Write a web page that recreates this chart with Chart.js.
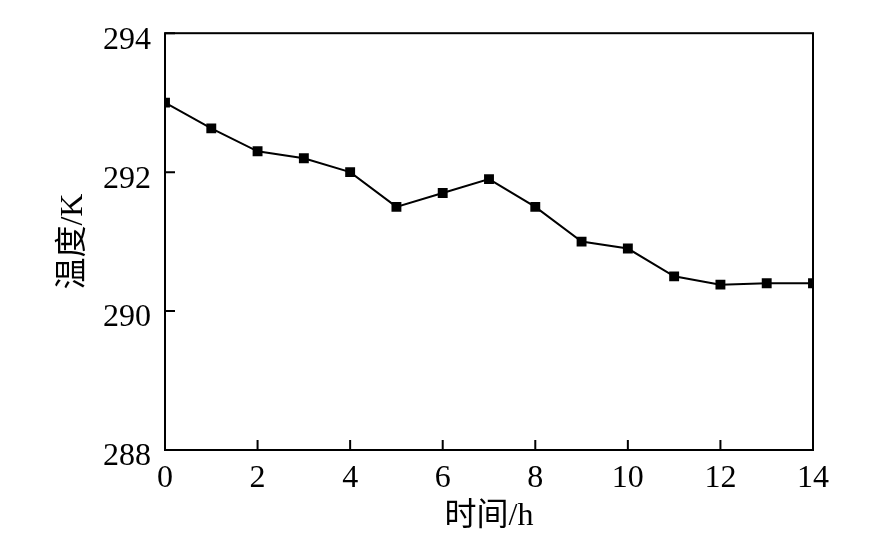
<!DOCTYPE html>
<html>
<head>
<meta charset="utf-8">
<script src="https://cdn.jsdelivr.net/npm/chart.js@4/dist/chart.umd.min.js"></script>
<style>
  html, body { margin: 0; padding: 0; background: #fff; }
  #wrap { width: 886px; height: 539px; }
</style>
</head>
<body>
<div id="wrap"><canvas id="tempChart" width="886" height="539"></canvas></div>
<script>
// 数据：时间 (h) 与温度 (K)
const hours = [0, 1, 2, 3, 4, 5, 6, 7, 8, 9, 10, 11, 12, 13, 14];
const temps = [293.0, 292.63, 292.3, 292.2, 292.0, 291.5, 291.7, 291.9, 291.5, 291.0, 290.9, 290.5, 290.38, 290.4, 290.4];
const xTicks = [0, 2, 4, 6, 8, 10, 12, 14];
const yTicks = [288, 290, 292, 294];

const serif = "'Liberation Serif', 'Times New Roman', 'Noto Sans CJK SC', serif";

// 边框与向内的刻度线
const frameTicks = {
    id: 'frameTicks',
    afterDraw(chart) {
        const ctx = chart.ctx;
        const a = chart.chartArea;
        const xs = chart.scales.x;
        const ys = chart.scales.y;
        ctx.save();
        ctx.strokeStyle = '#000';
        ctx.lineWidth = 2;
        ctx.strokeRect(a.left, a.top, a.right - a.left, a.bottom - a.top);
        ctx.beginPath();
        xTicks.forEach(v => {
            const px = xs.getPixelForValue(v);
            ctx.moveTo(px, a.bottom);
            ctx.lineTo(px, a.bottom - 10);
        });
        yTicks.forEach(v => {
            const py = ys.getPixelForValue(v);
            ctx.moveTo(a.left, py);
            ctx.lineTo(a.left + 10, py);
        });
        ctx.stroke();
        ctx.restore();
    }
};

const ctx = document.getElementById('tempChart').getContext('2d');
new Chart(ctx, {
    type: 'line',
    data: {
        datasets: [{
            data: hours.map((h, i) => ({ x: h, y: temps[i] })),
            borderColor: '#000',
            borderWidth: 2,
            backgroundColor: '#000',
            pointStyle: 'rect',
            pointRadius: 7,
            pointBorderWidth: 0,
            tension: 0,
            fill: false
        }]
    },
    options: {
        responsive: false,
        animation: false,
        devicePixelRatio: 1,
        layout: { padding: { left: 54, right: 73, top: 31, bottom: 3 } },
        plugins: { legend: { display: false }, tooltip: { enabled: false } },
        scales: {
            x: {
                type: 'linear',
                min: 0,
                max: 14,
                afterBuildTicks: s => { s.ticks = xTicks.map(v => ({ value: v })); },
                afterFit: s => { s.height = 86; },
                grid: { display: false, drawTicks: false },
                border: { display: false },
                ticks: { color: '#000', font: { family: serif, size: 32 }, padding: 9, maxRotation: 0 },
                title: {
                    display: true,
                    text: '时间/h',
                    color: '#000',
                    font: { family: serif, size: 32 },
                    padding: 0
                }
            },
            y: {
                min: 288,
                max: 294,
                afterBuildTicks: s => { s.ticks = yTicks.map(v => ({ value: v })); },
                afterFit: s => { s.width = 111; },
                grid: { display: false, drawTicks: false },
                border: { display: false },
                ticks: { color: '#000', font: { family: serif, size: 32 }, padding: 14, labelOffset: 7 },
                title: {
                    display: true,
                    text: '温度/K',
                    color: '#000',
                    font: { family: serif, size: 32 },
                    padding: 0
                }
            }
        }
    },
    plugins: [frameTicks]
});
</script>
</body>
</html>
